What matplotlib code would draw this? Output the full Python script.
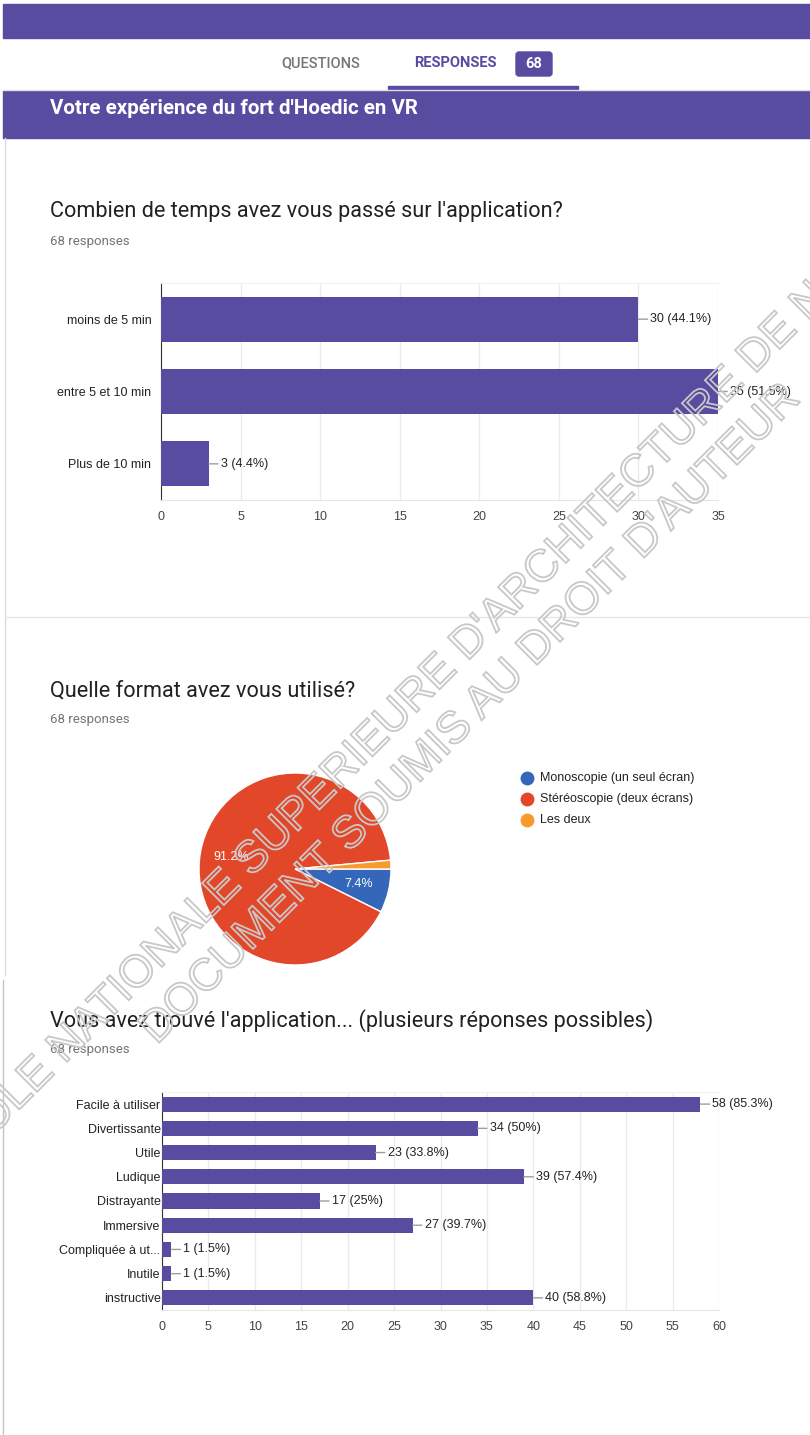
import matplotlib.pyplot as plt
from matplotlib.patches import Rectangle, FancyBboxPatch, PathPatch
from matplotlib.textpath import TextPath
from matplotlib.font_manager import FontProperties
from matplotlib.transforms import Affine2D

W, H = 810, 1435
PURPLE = '#574ca0'

plt.rcParams['font.family'] = ['Liberation Sans', 'DejaVu Sans']

# Survey answers (68 responses)
n_resp = 68

temps_labels = ['moins de 5 min', 'entre 5 et 10 min', 'Plus de 10 min']
temps_counts = [30, 35, 3]
temps_pct = ['44.1%', '51.5%', '4.4%']

format_labels = ['Monoscopie (un seul écran)', 'Stéréoscopie (deux écrans)', 'Les deux']
format_counts = [5, 62, 1]
format_colors = ['#3467b9', '#e2472a', '#f79a2e']

app_labels = ['Facile à utiliser', 'Divertissante', 'Utile', 'Ludique', 'Distrayante',
              'Immersive', 'Compliquée à ut...', 'Inutile', 'instructive']
app_counts = [58, 34, 23, 39, 17, 27, 1, 1, 40]
app_pct = ['85.3%', '50%', '33.8%', '57.4%', '25%', '39.7%', '1.5%', '1.5%', '58.8%']


def rect(l, t, r, b):
    # pixel box (left, top, right, bottom) -> figure fraction
    return [l / W, 1 - b / H, (r - l) / W, (b - t) / H]


fig = plt.figure(figsize=(W / 100, H / 100), dpi=100)
page = fig.add_axes([0, 0, 1, 1])
page.set_xlim(0, W)
page.set_ylim(H, 0)
page.axis('off')

# header
page.add_patch(Rectangle((3, 4), W - 3, 34, color=PURPLE))
page.plot([3, W], [90, 90], color='#e0e0e0', lw=1)
page.text(321, 63, 'QUESTIONS', family='Roboto', weight='medium', fontsize=10.5,
          color='#757575', ha='center', va='center')
page.text(455, 63, 'RESPONSES', family='Roboto', weight='bold', fontsize=10.5,
          color=PURPLE, ha='center', va='center')
page.add_patch(FancyBboxPatch((516, 52), 36, 24, boxstyle='round,pad=0,rounding_size=3',
                              color=PURPLE))
page.text(534, 64, str(n_resp), family='Roboto', weight='bold', fontsize=10.5,
          color='white', ha='center', va='center')
page.add_patch(Rectangle((388, 86), 190, 3, color=PURPLE))
page.add_patch(Rectangle((3, 91), W - 3, 47, color=PURPLE))
page.text(50, 109, "Votre expérience du fort d'Hoedic en VR", family='Roboto',
          weight='bold', fontsize=14.8, color='white', va='center')

# card borders
page.plot([5, 5], [138, 975], color='#dadce0', lw=1)
page.plot([5, W], [617, 617], color='#e6e6e6', lw=1)
page.plot([3, 3], [980, H], color='#c4c4c4', lw=1)


def card_title(y, title):
    page.text(50, y, title, family='Roboto', fontsize=15.6, color='#202124', va='center')
    page.text(50, y + 29, f'{n_resp} responses', family='Roboto', fontsize=9.5,
              color='#70757a', va='center')


card_title(212, "Combien de temps avez vous passé sur l'application?")
card_title(691, 'Quelle format avez vous utilisé?')
card_title(1021, "Vous avez trouvé l'application... (plusieurs réponses possibles)")


def bar_chart(box, labels, counts, pcts, xmax, label_pad):
    ax = fig.add_axes(rect(*box))
    ys = list(range(len(labels)))
    ax.barh(ys, counts, height=0.62, color=PURPLE, zorder=3)
    ax.set_ylim(len(labels) - 0.5, -0.5)
    ax.set_xlim(0, xmax)
    ax.set_xticks(range(0, xmax + 1, 5))
    ax.set_yticks(ys)
    ax.set_yticklabels(labels)
    ax.tick_params(length=0, labelsize=9)
    ax.tick_params(axis='x', pad=8, labelcolor='#444444')
    ax.tick_params(axis='y', pad=label_pad, labelcolor='#222222')
    ax.grid(axis='x', color='#ebebeb', lw=1, zorder=0)
    ax.set_axisbelow(True)
    ax.spines['left'].set_color('#333333')
    ax.spines['bottom'].set_color('#e6e6e6')
    ax.spines['top'].set_color('#f2f2f2')
    ax.spines['right'].set_visible(False)
    for i, (v, p) in enumerate(zip(counts, pcts)):
        ax.annotate(f'{v} ({p})', xy=(v, i), xytext=(12, 0), textcoords='offset pixels',
                    va='center', ha='left', fontsize=9, color='#222222',
                    annotation_clip=False,
                    arrowprops=dict(arrowstyle='-', color='#9e9e9e', lw=1,
                                    shrinkA=0, shrinkB=0))
    return ax


bar_chart((161, 283, 718, 500), temps_labels, temps_counts, temps_pct, 35, 7)
bar_chart((162, 1092, 719, 1310), app_labels, app_counts, app_pct, 60, 1)

# pie chart
pax = fig.add_axes(rect(199, 773, 391, 965))
pax.pie(format_counts, colors=format_colors, startangle=0, counterclock=False,
        autopct=lambda p: f'{p:.1f}%' if p > 5 else '', pctdistance=0.68,
        wedgeprops=dict(edgecolor='white', linewidth=1),
        textprops=dict(color='white', fontsize=9))
pax.set_xlim(-1, 1)
pax.set_ylim(-1, 1)

for i, (lab, col) in enumerate(zip(format_labels, format_colors)):
    y = 778 + 21 * i
    page.plot(527, y, 'o', ms=9, color=col)
    page.text(540, y, lab, va='center', fontsize=9, color='#222222')

# diagonal watermark, outlined letters
ov = fig.add_axes([0, 0, 1, 1], zorder=10)
ov.set_xlim(0, W)
ov.set_ylim(0, H)
ov.axis('off')
ov.patch.set_alpha(0)
fp = FontProperties(family='Liberation Sans')


def watermark(text, sub, cx, cy, size=45):
    tp = TextPath((0, 0), text, size=size, prop=fp)
    i = text.index(sub)
    start = 0 if i == 0 else TextPath((0, 0), text[:i], size=size, prop=fp).get_extents().x1
    end = TextPath((0, 0), text[:i + len(sub)], size=size, prop=fp).get_extents().x1
    mid = (start + end) / 2
    tr = Affine2D().translate(-mid, -size * 0.36).rotate_deg(45).translate(cx, H - cy)
    ov.add_patch(PathPatch(tp, transform=tr + ov.transData, fc='none',
                           ec='#c8c8c8', lw=1.3))


watermark("ECOLE NATIONALE SUPERIEURE D'ARCHITECTURE DE NANTES",
          "LE NATIONALE SUPERIEURE D'ARCHITECTURE DE N", 410, 696)
watermark("DOCUMENT SOUMIS AU DROIT D'AUTEUR",
          "DOCUMENT SOUMIS AU DROIT D'AUTEUR", 467, 712)

fig.savefig('out.png', dpi=100, facecolor='white')
